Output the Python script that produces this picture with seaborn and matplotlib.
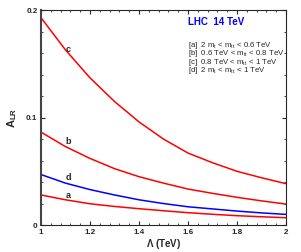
import matplotlib
matplotlib.use('Agg')
import matplotlib.pyplot as plt
from matplotlib.ticker import MultipleLocator
import pandas as pd
import seaborn as sns

# Lambda (TeV) grid and A_LR values
lam = [1.0, 1.1, 1.2, 1.3, 1.4, 1.5, 1.6, 1.7, 1.8, 1.9, 2.0]
alr_a = [0.0280, 0.0235, 0.0198, 0.0173, 0.0152, 0.0133, 0.0115, 0.0100, 0.0087, 0.0077, 0.0068]
alr_b = [0.0865, 0.0730, 0.0620, 0.0525, 0.0450, 0.0390, 0.0335, 0.0295, 0.0258, 0.0225, 0.0195]
alr_c = [0.1930, 0.1630, 0.1370, 0.1150, 0.0960, 0.0800, 0.0670, 0.0580, 0.0500, 0.0440, 0.0385]
alr_d = [0.0470, 0.0390, 0.0330, 0.0280, 0.0235, 0.0200, 0.0170, 0.0150, 0.0130, 0.0113, 0.0099]

curve_names = ['a', 'b', 'c', 'd']
curve_colors = {'a': 'red', 'b': 'red', 'c': 'red', 'd': 'blue'}
# where each curve letter is written
label_x = [1.112, 1.112, 1.112, 1.112]
label_y = [0.0275, 0.0775, 0.1635, 0.0445]

legend_lines = ['[a]  2 m$_t$ < m$_{tt}$ < 0.6 TeV',
                '[b]  0.6 TeV < m$_{tt}$ < 0.8 TeV',
                '[c]  0.8 TeV < m$_{tt}$ < 1 TeV',
                '[d]  2 m$_t$ < m$_{tt}$ < 1 TeV']

# long-form table for seaborn
rows = []
for name, vals in zip(curve_names, [alr_a, alr_b, alr_c, alr_d]):
    for x, y in zip(lam, vals):
        rows.append({'lam': x, 'alr': y, 'curve': name})
df = pd.DataFrame(rows)

sns.set_style('ticks')
plt.rcParams['font.family'] = ['Liberation Sans', 'DejaVu Sans']
plt.rcParams['mathtext.fontset'] = 'custom'
plt.rcParams['mathtext.rm'] = 'Liberation Sans'
plt.rcParams['mathtext.it'] = 'Liberation Sans'
plt.rcParams['mathtext.bf'] = 'Liberation Sans:bold'
plt.rcParams['mathtext.default'] = 'regular'

fig = plt.figure(figsize=(3.01, 2.52), dpi=100)
ax = fig.add_axes([0.136, 0.107, 0.814, 0.853])

sns.lineplot(data=df, x='lam', y='alr', hue='curve', palette=curve_colors,
             linewidth=1.1, legend=False, ax=ax)

for name, x, y in zip(curve_names, label_x, label_y):
    ax.text(x, y, name, fontsize=6.5, fontweight='bold', ha='center', va='center')

ax.text(1.60, 0.189, 'LHC  14 TeV', color='blue', fontsize=7, fontweight='bold',
        va='center')
# the four cut descriptions as one block of text
ax.text(1.60, 0.1725, '\n'.join(legend_lines), fontsize=5.6, va='top',
        linespacing=0.66)

ax.set_xlim(1, 2)
ax.set_ylim(0, 0.2)
ax.xaxis.set_major_locator(MultipleLocator(0.2))
ax.xaxis.set_minor_locator(MultipleLocator(0.04))
ax.yaxis.set_major_locator(MultipleLocator(0.1))
ax.yaxis.set_minor_locator(MultipleLocator(0.02))
ax.set_xticks([1, 1.2, 1.4, 1.6, 1.8, 2])
ax.set_xticklabels(['1', '1.2', '1.4', '1.6', '1.8', '2'])
ax.set_yticks([0, 0.1, 0.2])
ax.set_yticklabels(['0', '0.1', '0.2'])
ax.tick_params(which='both', direction='in', top=True, right=True, labelsize=5.8, pad=2.5)
ax.tick_params(which='major', length=3, width=0.8)
ax.tick_params(which='minor', length=1.5, width=0.6)
for lab in ax.get_xticklabels() + ax.get_yticklabels():
    lab.set_fontweight('bold')

for side in ['top', 'right', 'bottom']:
    ax.spines[side].set_linewidth(0.8)
ax.spines['left'].set_linewidth(1.5)
ax.spines['left'].set_color('#444444')

ax.set_xlabel('$\\Lambda$ (TeV)', fontsize=7, fontweight='bold', labelpad=1)
ax.set_ylabel('A$_{\\mathbf{LR}}$', fontsize=8, fontweight='bold', labelpad=5)

fig.savefig('out.png', dpi=100)
